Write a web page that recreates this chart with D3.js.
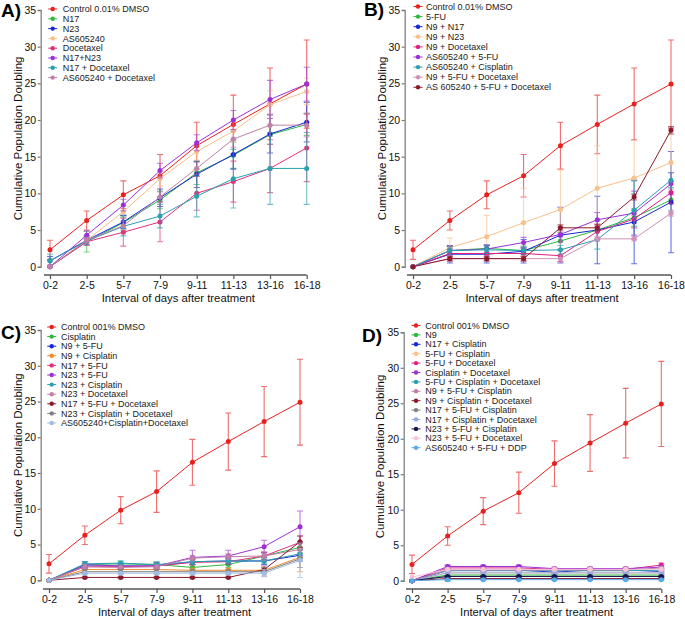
<!DOCTYPE html>
<html><head><meta charset="utf-8">
<script src="https://cdn.jsdelivr.net/npm/d3@7"></script>
<style>
body{margin:0;background:#fff;}
svg text{font-family:"Liberation Sans",Arial,sans-serif;}
</style></head>
<body><svg id="c" width="685" height="619"></svg>
<script>
const categories = ["0-2","2-5","5-7","7-9","9-11","11-13","13-16","16-18"];
const yTicks = [0,5,10,15,20,25,30,35];
const xTitle = "Interval of days after treatment";
const yTitle = "Cumulative Population Doubling";

const controlMean = [2.3,6.3,9.8,12.4,16.5,19.4,22.2,24.9];
const controlErr  = [1.3,1.3,1.9,2.9,3.2,4.0,4.9,6.0];

// Panel A
const aNames = ["Control 0.01% DMSO","N17","N23","AS605240","Docetaxel","N17+N23","N17 + Docetaxel","AS605240 + Docetaxel"];
const aColors = ["#e8211f","#2db83d","#1428d6","#f9c08a","#e0307a","#9b30d9","#2aa0b0","#c080a8"];
const aMeans = [
  controlMean,
  [0,3.4,6.0,9.1,12.8,15.2,18.0,19.4],
  [0.8,3.6,6.1,9.4,12.6,15.3,18.1,19.7],
  [0,3.6,7.5,12.0,15.7,18.5,22.1,23.9],
  [0,3.4,4.7,6.1,10.0,11.6,13.4,16.2],
  [0,4.3,8.4,13.1,16.9,20.0,22.8,24.9],
  [0.8,3.5,5.5,6.9,9.6,12.0,13.4,13.4],
  [0,3.6,5.6,9.5,13.4,17.4,19.3,19.3]
];
const aErrs = [
  controlErr,
  [0,1.4,1.0,1.2,1.6,1.8,1.3,1.5],
  [0.6,0.6,0.9,1.2,1.8,2.0,2.6,2.7],
  [0,0.5,0.8,1.0,1.2,1.5,1.9,1.8],
  [0,0.5,1.9,2.7,2.3,2.8,3.3,4.6],
  [0,0.6,0.8,1.0,1.1,1.3,2.6,2.3],
  [0.9,0.5,1.3,1.6,2.8,4.0,4.9,4.9],
  [0,0.4,0.6,0.7,0.8,1.1,1.5,1.6]
];

// Panel B
const bNames = ["Control 0.01% DMSO","5-FU","N9 + N17","N9 + N23","N9 + Docetaxel","AS605240 + 5-FU","AS605240 + Cisplatin","N9 + 5-FU + Docetaxel","AS 605240 + 5-FU + Docetaxel"];
const bColors = ["#e8211f","#2db83d","#1428d6","#f9c08a","#e0207f","#9b30d9","#2aa0b0","#d090b8","#8b1a2b"];
const bMeans = [
  controlMean,
  [0,2.2,2.5,2.2,3.5,5.0,6.7,9.1],
  [0,1.7,1.7,2.1,4.3,5.0,6.1,8.8],
  [0,2.6,4.1,6.0,7.8,10.7,12.1,14.2],
  [0,1.8,1.8,1.8,1.5,4.8,6.5,10.1],
  [0,2.2,2.4,3.3,4.4,6.4,7.3,11.3],
  [0,2.2,2.3,2.2,2.3,3.7,7.7,11.8],
  [0,1.1,1.1,1.1,1.1,3.8,3.8,7.3],
  [0,1.1,1.1,1.1,5.3,5.3,9.5,18.6]
];
const bErrs = [
  controlErr,
  [0,0.6,0.5,0.6,1.2,1.3,1.2,1.5],
  [0,1.2,1.2,1.6,3.8,4.6,5.7,6.9],
  [0,1.3,2.9,4.7,5.4,5.8,5.1,4.0],
  [0,0.6,0.6,0.7,0.8,1.0,1.2,1.5],
  [0,0.6,0.6,0.7,1.0,1.0,3.0,1.5],
  [0,0.5,0.5,0.5,0.6,1.3,4.0,1.0],
  [0,0.4,0.4,0.4,0.5,0.3,0.3,0.4],
  [0,0.3,0.3,0.3,0.4,0.4,0.4,0.5]
];

// Panel C
const cNames = ["Control 001% DMSO","Cisplatin","N9 + 5-FU","N9 + Cisplatin","N17 + 5-FU","N23 + 5-FU","N23 + Cisplatin","N23 + Docetaxel","N17 + 5-FU + Docetaxel","N23 + Cisplatin + Docetaxel","AS605240+Cisplatin+Docetaxel"];
const cColors = ["#e8211f","#2db83d","#1428d6","#f08a2a","#e0307a","#9b30d9","#2aa0b0","#c080a8","#8b1a2b","#808080","#a0bce0"];
const cMeans = [
  controlMean,
  [0,2.2,2.3,2.2,1.8,2.2,3.4,4.6],
  [0,2.0,2.0,2.0,2.6,2.7,2.7,3.5],
  [0,1.5,1.5,1.5,1.4,1.4,1.4,3.2],
  [0,1.9,1.9,2.0,2.5,2.6,3.4,5.3],
  [0,2.2,2.0,2.0,3.2,3.4,4.7,7.5],
  [0,2.3,2.4,2.2,2.6,2.7,2.7,3.7],
  [0,1.9,1.8,1.9,3.1,3.3,3.4,4.3],
  [0,0.4,0.4,0.4,0.4,0.4,1.5,5.4],
  [0,1.2,1.2,1.2,1.2,1.2,1.2,3.0],
  [0,1.0,1.0,1.0,1.0,1.0,1.0,2.8]
];
const cErrs = [
  controlErr,
  [0,0.4,0.4,0.4,0.4,0.4,0.5,0.8],
  [0,0.3,0.3,0.3,0.4,0.4,0.5,0.8],
  [0,0.3,0.3,0.3,0.3,0.3,0.3,2.0],
  [0,0.3,0.3,0.3,0.4,0.4,0.5,0.9],
  [0,0.4,0.4,0.5,1.0,0.8,0.9,2.2],
  [0,0.3,0.3,0.3,0.4,0.4,0.4,0.6],
  [0,0.3,0.3,0.3,0.4,0.4,0.6,1.0],
  [0,0.1,0.1,0.1,0.1,0.1,0.5,0.8],
  [0,0.3,0.3,0.3,0.3,0.3,0.6,1.2],
  [0,0.2,0.2,0.2,0.2,0.2,0.5,2.4]
];

// Panel D
const dNames = ["Control 001% DMSO","N9","N17 + Cisplatin","5-FU + Cisplatin","5-FU + Docetaxel","Cisplatin + Docetaxel","5-FU + Cisplatin + Docetaxel","N9 + 5-FU + Cisplatin","N9 + Cisplatin + Docetaxel","N17 + 5-FU + Cisplatin","N17 + Cisplatin + Docetaxel","N23 + 5-FU + Cisplatin","N23 + 5-FU + Docetaxel","AS605240 + 5-FU + DDP"];
const dColors = ["#e8211f","#2db83d","#1428d6","#f9c08a","#e0207f","#9b30d9","#2aa0b0","#c080a8","#8b1a2b","#808080","#9aa8e0","#141450","#f8c4d4","#5aaae8"];
const dMeans = [
  controlMean,
  [0,0.8,0.8,0.8,0.8,0.8,0.8,0.8],
  [0,1.5,1.5,1.5,1.2,1.5,1.5,1.3],
  [0,1.1,1.1,1.1,1.1,1.1,1.1,1.1],
  [0,1.8,1.8,1.8,1.6,1.6,1.6,2.2],
  [0,2.0,2.0,2.0,1.7,1.7,1.7,1.9],
  [0,1.4,1.4,1.4,1.4,1.4,1.4,1.5],
  [0,1.5,1.5,1.5,1.5,1.5,1.5,1.8],
  [0,0.3,0.3,0.3,0.3,0.3,0.3,0.3],
  [0,0.6,0.6,0.6,0.6,0.6,0.6,0.6],
  [0,1.1,1.1,1.1,1.1,1.1,1.1,1.1],
  [0,0.6,0.6,0.6,0.6,0.6,0.6,0.6],
  [0.5,1.6,1.6,1.6,1.6,1.6,1.6,1.6],
  [0,0.15,0.15,0.15,0.15,0.15,0.15,0.15]
];
const dErrs = [
  controlErr,
  [0,0.9,0.2,0.2,0.2,0.2,0.2,0.2],
  [0,0.2,0.2,0.2,0.2,0.2,0.2,0.2],
  [0,0.2,0.2,0.2,0.2,0.2,0.2,0.2],
  [0,0.3,0.3,0.3,0.3,0.3,0.3,0.3],
  [0,0.2,0.2,0.2,0.2,0.2,0.2,0.2],
  [0,0.2,0.2,0.2,0.2,0.2,0.2,0.2],
  [0,0.2,0.2,0.2,0.2,0.2,0.2,0.2],
  [0,0.1,0.1,0.1,0.1,0.1,0.1,0.1],
  [0,0.1,0.1,0.1,0.1,0.1,0.1,0.1],
  [0,0.2,0.2,0.2,0.2,0.2,0.2,0.2],
  [0,0.1,0.1,0.1,0.1,0.1,0.1,0.1],
  [0,0.2,0.2,0.2,0.2,0.2,0.2,0.2],
  [0,0.1,0.1,0.1,0.1,0.1,0.1,0.1]
];

const panels = [
  {label:"A)", lx:1, ly:17, names:aNames, colors:aColors, means:aMeans, errs:aErrs,
   yAxisX:40.7, y0:266.7, y35:10, xFirst:50, xLast:306.7, xAxisY:275,
   legX:52.7, legTX:62.7, legY:9, legDy:9.8, ytX:18},
  {label:"B)", lx:364, ly:16, names:bNames, colors:bColors, means:bMeans, errs:bErrs,
   yAxisX:404.7, y0:266.7, y35:10, xFirst:413, xLast:671, xAxisY:275,
   legX:418, legTX:426, legY:6.5, legDy:10.1, ytX:382},
  {label:"C)", lx:1, ly:339, names:cNames, colors:cColors, means:cMeans, errs:cErrs,
   yAxisX:40.7, y0:580.3, y35:330, xFirst:49, xLast:300, xAxisY:589,
   legX:51.7, legTX:61, legY:327, legDy:9.6, ytX:18},
  {label:"D)", lx:362, ly:342, names:dNames, colors:dColors, means:dMeans, errs:dErrs,
   yAxisX:403.7, y0:580.7, y35:332.3, xFirst:412, xLast:661.3, xAxisY:589,
   legX:416, legTX:425.3, legY:325.5, legDy:9.4, ytX:380}
];

const svg = d3.select("#c");

panels.forEach(p => {
  const g = svg.append("g");
  const x = d3.scalePoint().domain(categories).range([p.xFirst, p.xLast]);
  const y = d3.scaleLinear().domain([0,35]).range([p.y0, p.y35]);

  const ya = g.append("g").attr("transform", `translate(${p.yAxisX},0)`)
    .call(d3.axisLeft(y).tickValues(yTicks).tickSize(3).tickPadding(1.5));
  const xa = g.append("g").attr("transform", `translate(0,${p.xAxisY})`)
    .call(d3.axisBottom(x).tickSize(4).tickPadding(2.5));
  xa.select(".domain").attr("d", `M${p.xFirst-6},0H${p.xLast}`);
  ya.select(".domain").attr("stroke", "#8a8a8a").attr("stroke-width", 1.4);
  ya.selectAll(".tick line").attr("stroke", "#777").attr("stroke-width", 1.2);
  xa.select(".domain").attr("stroke", "#555").attr("stroke-width", 1.3);
  xa.selectAll(".tick line").attr("stroke", "#555").attr("stroke-width", 1.2);
  [ya, xa].forEach(a => {
    a.selectAll(".tick text").attr("fill", "#111").attr("font-size", "10.5px")
      .attr("font-family", '"Liberation Sans",Arial,sans-serif');
  });

  g.append("text").attr("x", (p.xFirst + p.xLast)/2).attr("y", p.xAxisY + 27)
    .attr("text-anchor","middle").attr("font-size","11.3px").attr("fill","#111").text(xTitle);
  g.append("text").attr("transform", `translate(${p.ytX + 4},${(p.y0+p.y35)/2}) rotate(-90)`)
    .attr("text-anchor","middle").attr("font-size","11.5px").attr("fill","#111").text(yTitle);
  g.append("text").attr("x", p.lx).attr("y", p.ly).attr("font-size","19px")
    .attr("font-weight","bold").attr("fill","#000").text(p.label);

  const line = d3.line().x((d,i)=>x(categories[i])).y(d=>y(d));

  p.means.forEach((m, si) => {
    const col = p.colors[si];
    const e = p.errs[si];
    const sg = g.append("g");
    m.forEach((v,i) => {
      if (e[i] <= 0) return;
      const cx = x(categories[i]);
      const yt = y(v + e[i]), yb = y(v - e[i]);
      sg.append("path")
        .attr("d", `M${cx},${yt}V${yb}M${cx-3},${yt}H${cx+3}M${cx-3},${yb}H${cx+3}`)
        .attr("stroke", col).attr("stroke-width", 1.1).attr("fill","none").attr("opacity", 0.65);
    });
    sg.append("path").datum(m).attr("d", line).attr("fill","none")
      .attr("stroke", col).attr("stroke-width", 1);
    sg.selectAll("circle").data(m).join("circle")
      .attr("cx",(d,i)=>x(categories[i])).attr("cy", d=>y(d)).attr("r", 2.5).attr("fill", col);
  });

  const lg = g.append("g");
  p.names.forEach((n, i) => {
    const yy = p.legY + i*p.legDy;
    lg.append("line").attr("x1", p.legX-4.5).attr("x2", p.legX+4.5).attr("y1", yy).attr("y2", yy)
      .attr("stroke", p.colors[i]).attr("stroke-width", 1);
    lg.append("circle").attr("cx", p.legX).attr("cy", yy).attr("r", 2.2).attr("fill", p.colors[i]);
    lg.append("text").attr("x", p.legTX).attr("y", yy).attr("dy","0.35em")
      .attr("font-size","9px").attr("fill","#222").text(n);
  });
});
</script></body></html>
